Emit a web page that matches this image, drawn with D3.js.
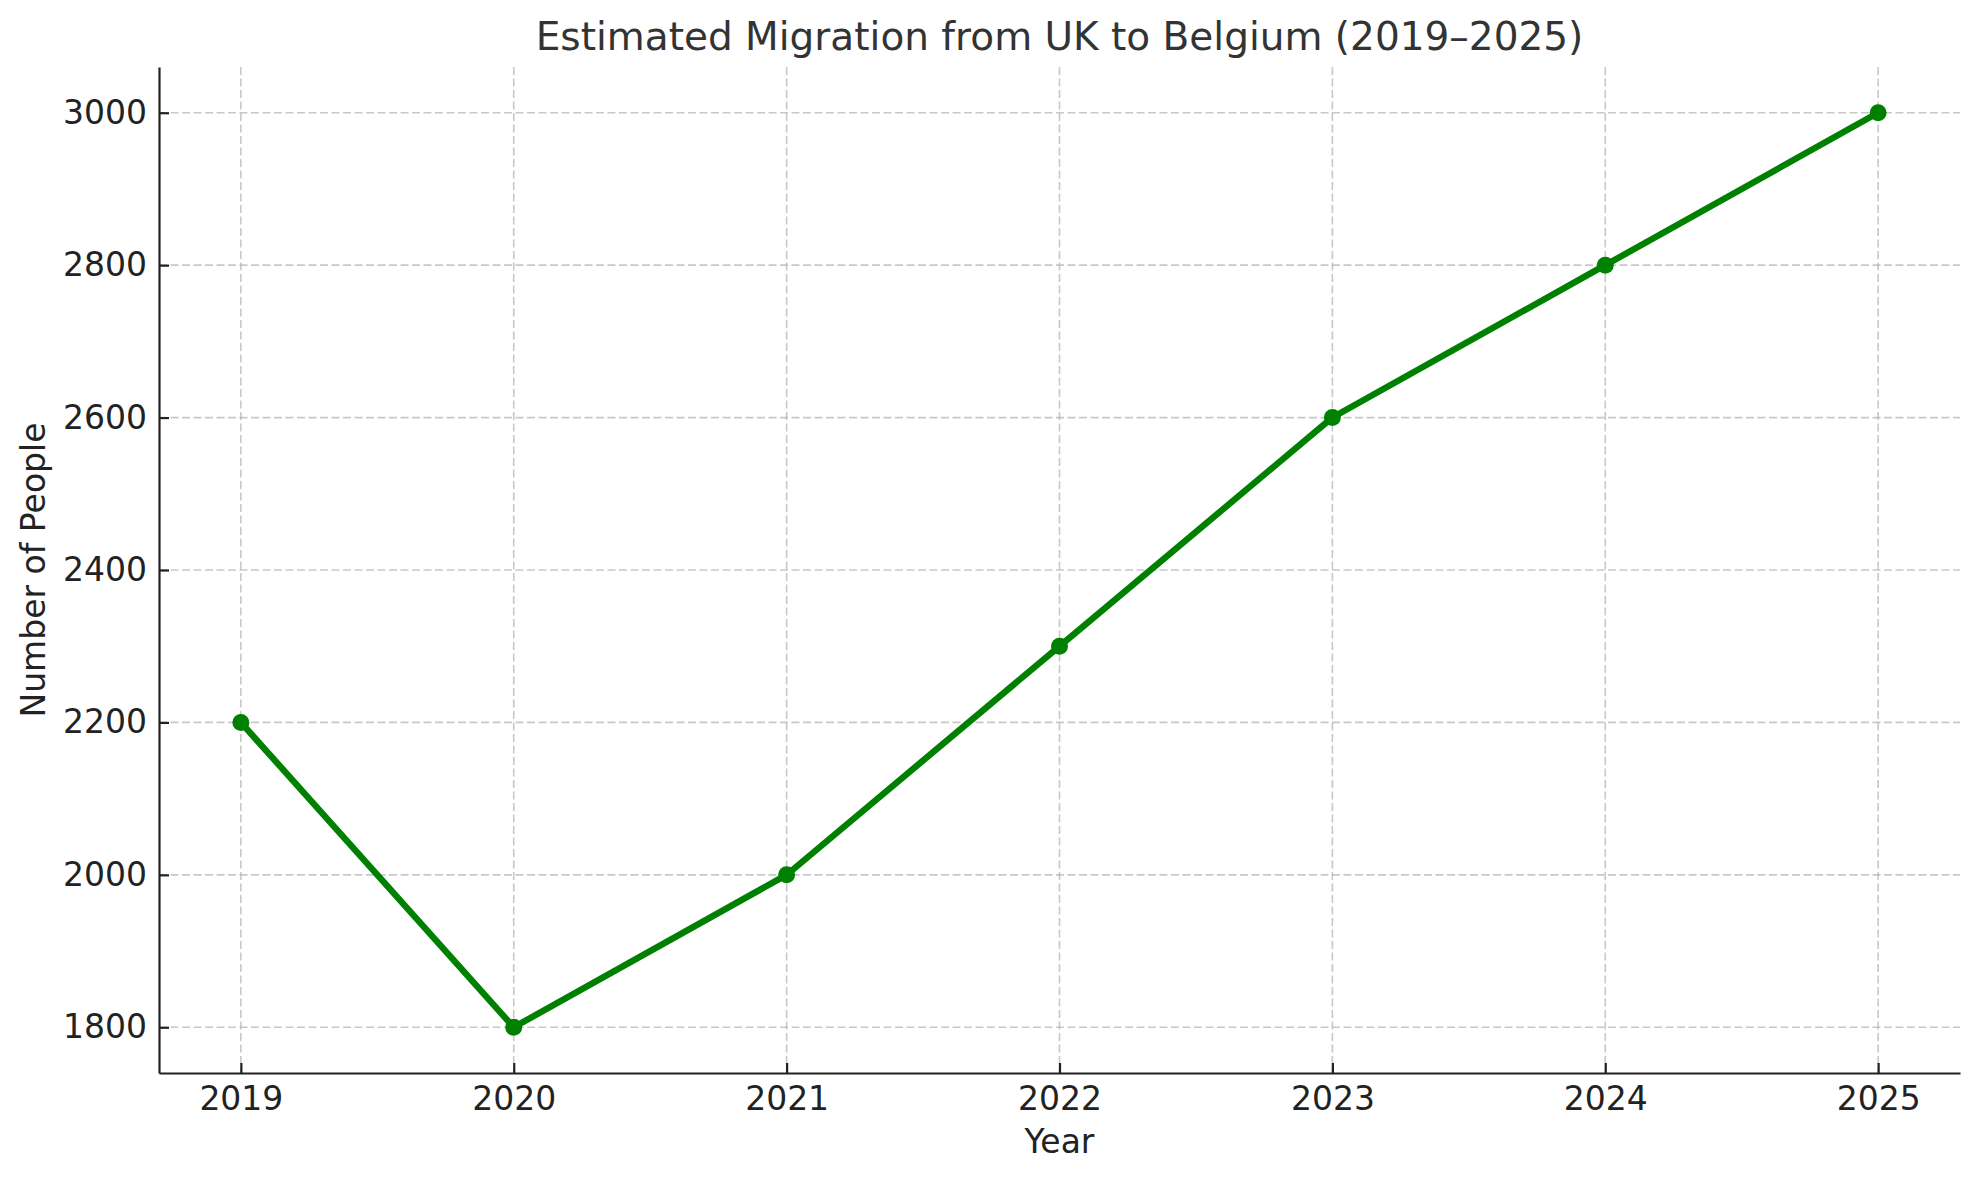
<!DOCTYPE html>
<html>
<head>
<meta charset="utf-8">
<script src="https://cdn.jsdelivr.net/npm/d3@7"></script>
<style>
  body { margin: 0; background: #fff; }
  text { font-family: "DejaVu Sans", sans-serif; }
</style>
</head>
<body>
<div id="chart"></div>
<script>
// data
const years = [2019, 2020, 2021, 2022, 2023, 2024, 2025];
const people = [2200, 1800, 2000, 2300, 2600, 2800, 3000];
const yTicks = [1800, 2000, 2200, 2400, 2600, 2800, 3000];

const width = 1979,
  height = 1180;
const margin = { top: 67, right: 19, bottom: 107, left: 159 };

const svg = d3.select("#chart")
  .append("svg")
  .attr("width", width)
  .attr("height", height);

// scales, with matplotlib-like 5% padding
const x = d3.scaleLinear()
  .domain([2018.7, 2025.3])
  .range([margin.left, width - margin.right]);

const y = d3.scaleLinear()
  .domain([1740, 3060])
  .range([height - margin.bottom, margin.top]);

// grid
const grid = svg.append("g")
  .attr("stroke", "#b0b0b0")
  .attr("stroke-opacity", 0.7)
  .attr("stroke-width", 1.6)
  .attr("stroke-dasharray", "8,3.5");

grid.selectAll(".vgrid")
  .data(years)
  .enter()
  .append("line")
  .attr("x1", d => x(d))
  .attr("x2", d => x(d))
  .attr("y1", margin.top)
  .attr("y2", height - margin.bottom);

grid.selectAll(".hgrid")
  .data(yTicks)
  .enter()
  .append("line")
  .attr("x1", margin.left)
  .attr("x2", width - margin.right)
  .attr("y1", d => y(d))
  .attr("y2", d => y(d));

// axes (ticks pointing inward)
const xAxis = svg.append("g")
  .attr("transform", `translate(0,${height - margin.bottom})`)
  .call(d3.axisBottom(x).tickValues(years).tickFormat(d3.format("d"))
    .tickSizeInner(-10).tickSizeOuter(0).tickPadding(12));

const yAxis = svg.append("g")
  .attr("transform", `translate(${margin.left},0)`)
  .call(d3.axisLeft(y).tickValues(yTicks).tickFormat(d3.format("d"))
    .tickSizeInner(-10).tickSizeOuter(0).tickPadding(12));

[xAxis, yAxis].forEach(a => {
  a.select(".domain").attr("stroke", "#222").attr("stroke-width", 2.2);
  a.selectAll(".tick line").attr("stroke", "#222").attr("stroke-width", 2.2);
  a.selectAll(".tick text")
    .attr("fill", "#222")
    .style("font-size", "33px");
});
xAxis.selectAll(".tick text").attr("dy", "0.76em");

// line
const line = d3.line()
  .x((d, i) => x(years[i]))
  .y(d => y(d));

svg.append("path")
  .datum(people)
  .attr("fill", "none")
  .attr("stroke", "#008000")
  .attr("stroke-width", 6.4)
  .attr("stroke-linejoin", "round")
  .attr("d", line);

svg.selectAll(".dot")
  .data(people)
  .enter()
  .append("circle")
  .attr("cx", (d, i) => x(years[i]))
  .attr("cy", d => y(d))
  .attr("r", 8.5)
  .attr("fill", "#008000");

// title and labels
svg.append("text")
  .attr("x", (margin.left + width - margin.right) / 2)
  .attr("y", 50)
  .attr("text-anchor", "middle")
  .attr("fill", "#333")
  .style("font-size", "39px")
  .text("Estimated Migration from UK to Belgium (2019–2025)");

svg.append("text")
  .attr("x", (margin.left + width - margin.right) / 2)
  .attr("y", 1153)
  .attr("text-anchor", "middle")
  .attr("fill", "#222")
  .style("font-size", "33px")
  .text("Year");

svg.append("text")
  .attr("transform", `translate(45,${(margin.top + height - margin.bottom) / 2}) rotate(-90)`)
  .attr("text-anchor", "middle")
  .attr("fill", "#222")
  .style("font-size", "33px")
  .text("Number of People");
</script>
</body>
</html>
